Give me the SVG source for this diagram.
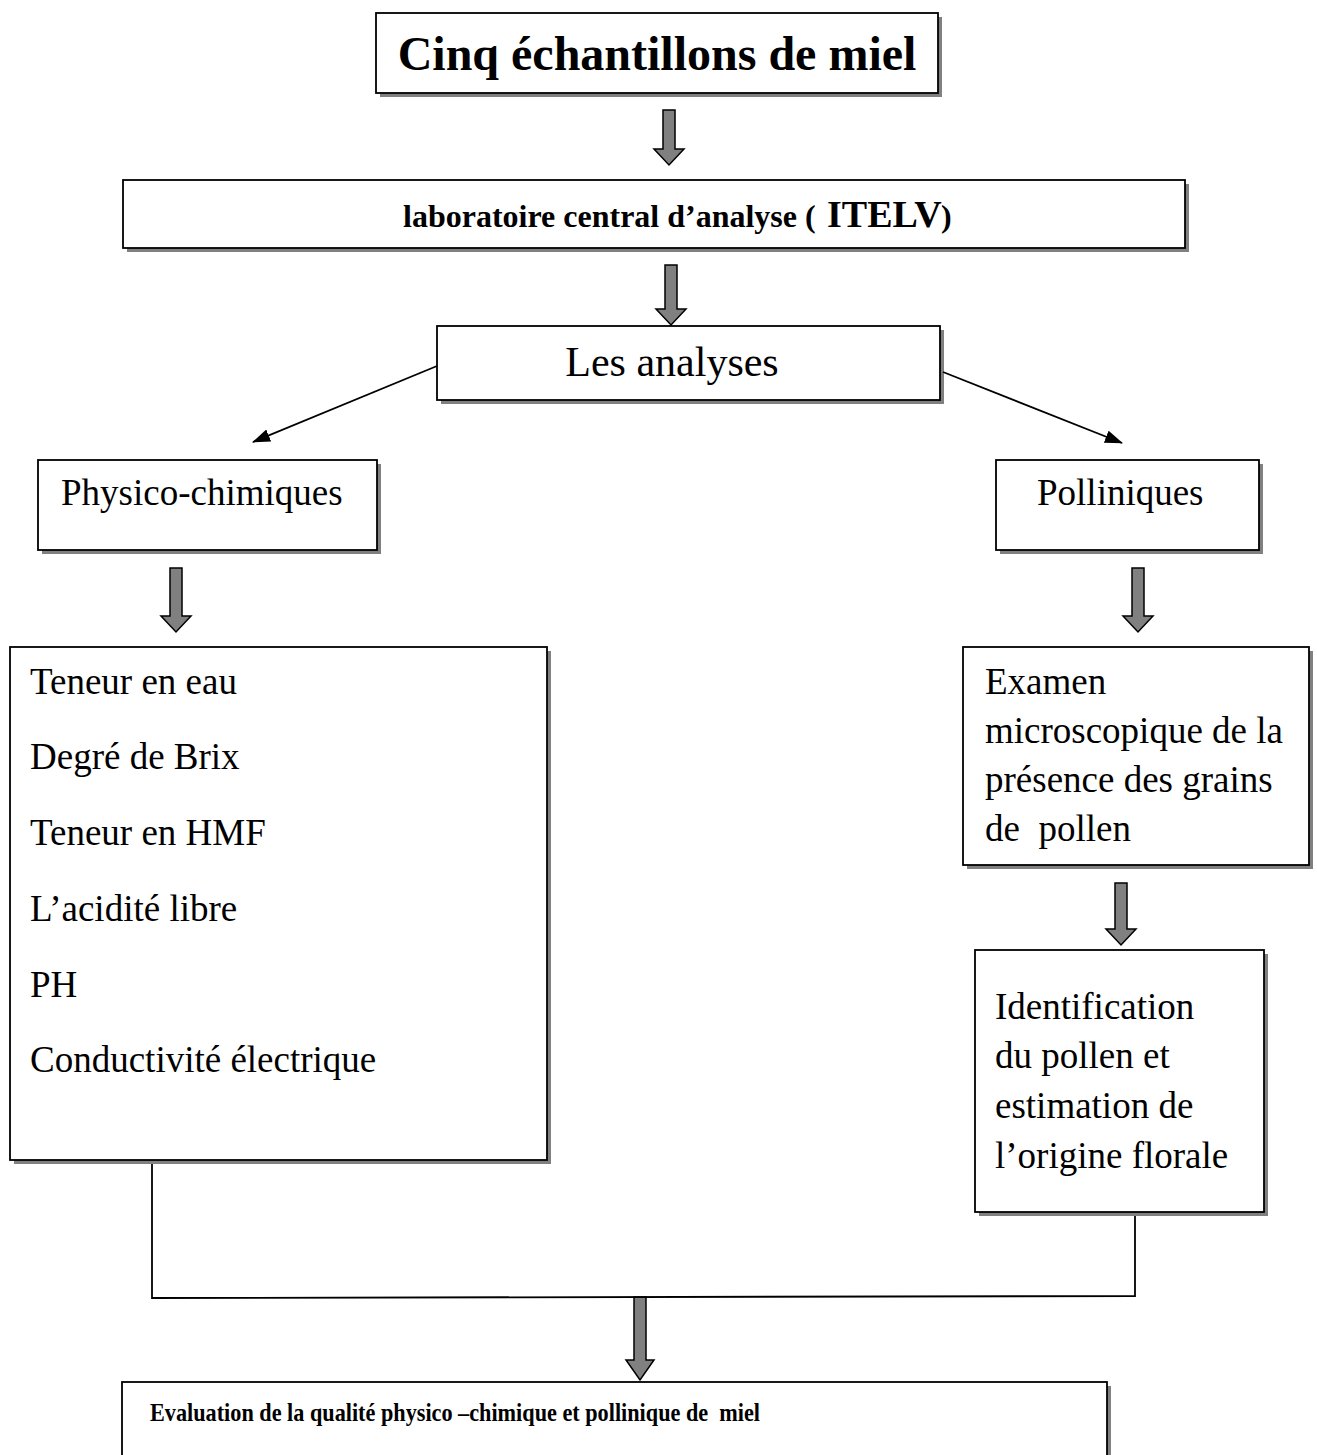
<svg xmlns="http://www.w3.org/2000/svg" width="1317" height="1455" viewBox="0 0 1317 1455">
<style>
.box{fill:#fff;stroke:#000;stroke-width:1.8}
.sh{fill:#808080}
.t{font-family:"Liberation Serif","Times New Roman",serif;fill:#000}
.b{font-weight:bold}
.blk{fill:#808080;stroke:#000;stroke-width:1.5;stroke-linejoin:miter}
.ln{fill:none;stroke:#000;stroke-width:1.8}
</style>
<defs>
<marker id="ah2" markerWidth="18" markerHeight="13" refX="17" refY="6.5" orient="auto" markerUnits="userSpaceOnUse" viewBox="0 0 18 13">
<path d="M0,0 L18,6.5 L0,13 Z" fill="#000"/>
</marker>
</defs>
<rect width="1317" height="1455" fill="#fff"/>

<g id="n-echantillons">
<rect class="sh" x="380" y="17" width="562" height="80"/>
<rect class="box" x="376" y="13" width="562" height="80"/>
<text class="t b" x="657" y="70" font-size="48" text-anchor="middle">Cinq échantillons de miel</text>
</g>

<g id="n-laboratoire">
<rect class="sh" x="127" y="184" width="1062" height="68"/>
<rect class="box" x="123" y="180" width="1062" height="68"/>
<text class="t b" x="403" y="227" font-size="32">laboratoire central d’analyse (</text>
<text class="t b" x="827" y="227" font-size="38">ITELV</text>
<text class="t b" x="941" y="227" font-size="32">)</text>
</g>

<g id="n-analyses">
<rect class="sh" x="441" y="330" width="503" height="74"/>
<rect class="box" x="437" y="326" width="503" height="74"/>
<text class="t" x="672" y="376" font-size="42" text-anchor="middle">Les analyses</text>
</g>

<g id="n-physico">
<rect class="sh" x="42" y="464" width="339" height="90"/>
<rect class="box" x="38" y="460" width="339" height="90"/>
<text class="t" x="61" y="505" font-size="37">Physico-chimiques</text>
</g>

<g id="n-polliniques">
<rect class="sh" x="1000" y="464" width="263" height="90"/>
<rect class="box" x="996" y="460" width="263" height="90"/>
<text class="t" x="1037" y="505" font-size="37">Polliniques</text>
</g>

<g id="n-parametres">
<rect class="sh" x="14" y="651" width="537" height="513"/>
<rect class="box" x="10" y="647" width="537" height="513"/>
<text class="t" font-size="37" x="30">
<tspan x="30" y="694">Teneur en eau</tspan>
<tspan x="30" y="769">Degré de Brix</tspan>
<tspan x="30" y="845">Teneur en HMF</tspan>
<tspan x="30" y="921">L’acidité libre</tspan>
<tspan x="30" y="997">PH</tspan>
<tspan x="30" y="1072">Conductivité électrique</tspan>
</text>
</g>

<g id="n-examen">
<rect class="sh" x="967" y="651" width="346" height="218"/>
<rect class="box" x="963" y="647" width="346" height="218"/>
<text class="t" font-size="37">
<tspan x="985" y="694">Examen</tspan>
<tspan x="985" y="743">microscopique de la</tspan>
<tspan x="985" y="792">présence des grains</tspan>
<tspan x="985" y="841" xml:space="preserve">de  pollen</tspan>
</text>
</g>

<g id="n-identification">
<rect class="sh" x="979" y="954" width="289" height="262"/>
<rect class="box" x="975" y="950" width="289" height="262"/>
<text class="t" font-size="37">
<tspan x="995" y="1019">Identification</tspan>
<tspan x="995" y="1068">du pollen et</tspan>
<tspan x="995" y="1118">estimation de</tspan>
<tspan x="995" y="1168">l’origine florale</tspan>
</text>
</g>

<g id="n-evaluation">
<rect class="sh" x="126" y="1386" width="985" height="80"/>
<rect class="box" x="122" y="1382" width="985" height="80"/>
<text class="t b" x="150" y="1421" font-size="26" textLength="610" lengthAdjust="spacingAndGlyphs" xml:space="preserve">Evaluation de la qualité physico –chimique et pollinique de  miel</text>
</g>

<g id="connectors">
<path class="blk" d="M663,110 H675 V149 H684 L669,165 L654,149 H663 Z"/>
<path class="blk" d="M665,265 H677 V309 H686 L671,325 L656,309 H665 Z"/>
<path class="blk" d="M170,568 H182 V616 H191 L176,632 L161,616 H170 Z"/>
<path class="blk" d="M1132,568 H1144 V616 H1153 L1138,632 L1123,616 H1132 Z"/>
<path class="blk" d="M1115,883 H1127 V929 H1136 L1121,945 L1106,929 H1115 Z"/>
<path class="blk" d="M634,1297 H646 V1360 H654 L640,1380 L626,1360 H634 Z"/>
<line class="ln" x1="437" y1="366" x2="253" y2="442" marker-end="url(#ah2)"/>
<line class="ln" x1="943" y1="372" x2="1122" y2="443" marker-end="url(#ah2)"/>
<polyline class="ln" points="152,1164 152,1298 1135,1296 1135,1216"/>
</g>
</svg>
